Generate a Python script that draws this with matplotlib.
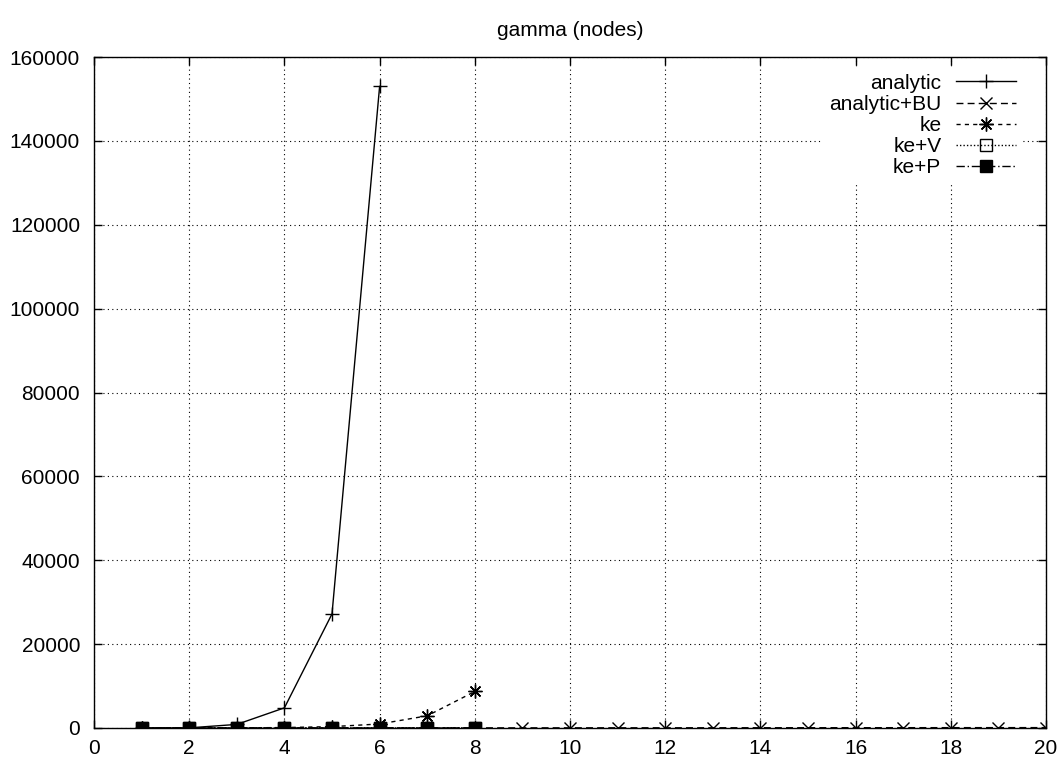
import matplotlib
matplotlib.use("Agg")
from matplotlib import pyplot as plt

plt.rcParams['font.family'] = ['Liberation Sans', 'DejaVu Sans']

# data
x_analytic = [1, 2, 3, 4, 5, 6]
y_analytic = [1, 30, 850, 4800, 27200, 153000]

x_bu = list(range(1, 21))
y_bu = [1, 2, 4, 7, 10, 15, 20, 25, 30, 35, 40, 45, 50, 55, 60, 65, 70, 75, 80, 85]

x_ke = [1, 2, 3, 4, 5, 6, 7, 8]
y_ke = [1, 5, 25, 100, 320, 950, 2900, 8700]

x_kev = [1, 2, 3, 4, 5, 6, 7, 8]
y_kev = [1, 2, 4, 8, 12, 18, 25, 35]

x_kep = [1, 2, 3, 4, 5, 6, 7, 8]
y_kep = [1, 2, 4, 8, 12, 18, 25, 35]

fig = plt.figure(figsize=(10.62, 7.61), dpi=100)
ax = fig.add_axes([0.0885, 0.0434, 0.8965, 0.8816])

lw = 1.0
ax.plot(x_analytic, y_analytic, color='black', lw=lw, ls='-', marker='+', ms=10, mew=1, label='analytic')
ax.plot(x_bu, y_bu, color='black', lw=lw, ls=(0, (5, 3)), marker='x', ms=8, mew=1, label='analytic+BU')
ax.plot(x_ke, y_ke, color='black', lw=lw, ls=(0, (3, 3)), marker=(8, 2, 0), ms=10, mew=1, label='ke')
ax.plot(x_kev, y_kev, color='black', lw=lw, ls=(0, (1, 1.5)), marker='s', ms=8, mfc='none', mew=1, label='ke+V')
ax.plot(x_kep, y_kep, color='black', lw=lw, ls=(0, (6, 2, 1, 2)), marker='s', ms=9, mfc='black', mew=1, label='ke+P')

ax.set_xlim(0, 20)
ax.set_ylim(0, 160000)
ax.set_xticks(range(0, 21, 2))
ax.set_yticks(range(0, 160001, 20000))
ax.tick_params(direction='in', length=6, width=1, top=True, right=True, labelsize=15)
ax.tick_params(axis='x', pad=8)
ax.tick_params(axis='y', pad=10)
ax.grid(True, color='black', ls=(0, (1, 3)), lw=0.8)
for s in ax.spines.values():
    s.set_linewidth(1)

ax.set_title('gamma (nodes)', fontsize=15, pad=15)

leg = ax.legend(loc='upper right', bbox_to_anchor=(0.9863, 1.0), markerfirst=False,
                handlelength=2.9, fontsize=15,
                frameon=True, facecolor='white', edgecolor='none', framealpha=1,
                borderaxespad=0.5, borderpad=0.3, labelspacing=0.1, handletextpad=0.7, fancybox=False)

plt.savefig('out.png', dpi=100)
